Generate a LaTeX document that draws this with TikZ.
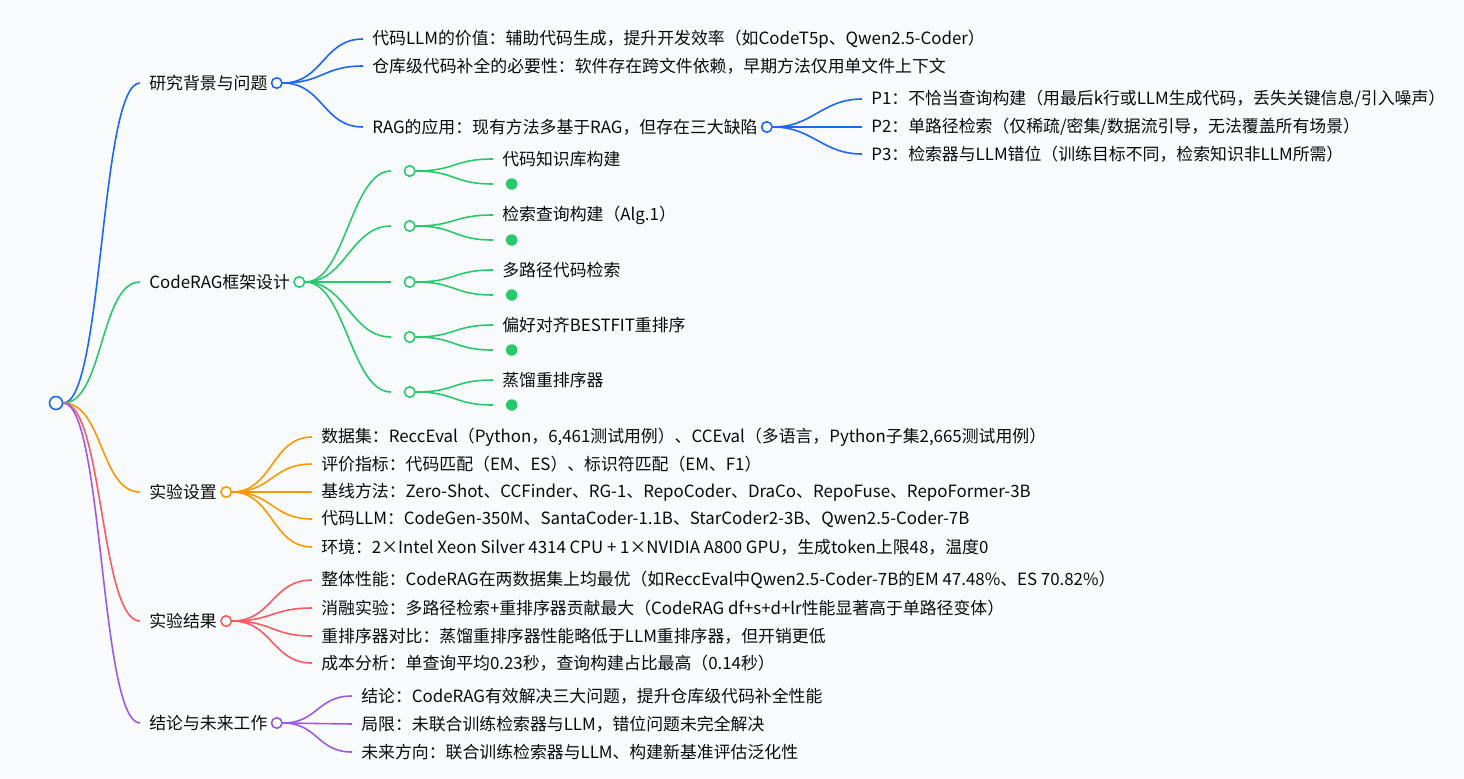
\documentclass[tikz,border=0pt]{standalone}
\usepackage{fontspec}
\setmainfont{Noto Sans CJK SC}
\definecolor{bgcol}{RGB}{248,250,252}
\definecolor{mblue}{RGB}{26,102,255}
\definecolor{mgreen}{RGB}{40,201,106}
\definecolor{morange}{RGB}{255,152,0}
\definecolor{mred}{RGB}{255,90,95}
\definecolor{mpurple}{RGB}{155,90,230}
\definecolor{txt}{RGB}{10,10,10}

\begin{document}
\begin{tikzpicture}[x=0.02cm, y=-0.02cm,
    every node/.style={font=\fontsize{9.6pt}{11pt}\selectfont, text=txt},
    txtnode/.style={anchor=west, inner xsep=0.18cm, inner ysep=0pt},
    knob/.style={circle, draw=#1, fill=white, line width=0.9pt, minimum size=0.21cm, inner sep=0pt},
    leaf/.style={circle, fill=#1, minimum size=0.23cm, inner sep=0pt},
    branch/.style={line width=0.9pt, to path={.. controls +(#1,0) and +(-#1,0) .. (\tikztotarget)}},
    branch/.default=40]

    \fill[bgcol] (0,0) rectangle (1464,778);
    \useasboundingbox (0,0) rectangle (1464,778);

    \node[knob=mblue, minimum size=0.26cm] (root) at (56,403) {};

    % level 1
    \node[txtnode] (back) at (140,83) {研究背景与问题};
    \node[knob=mblue] (backk) at (back.east) {};
    \node[txtnode] (frame) at (140,282) {CodeRAG框架设计};
    \node[knob=mgreen] (framek) at (frame.east) {};
    \node[txtnode] (setup) at (140,492) {实验设置};
    \node[knob=morange] (setupk) at (setup.east) {};
    \node[txtnode] (result) at (140,621) {实验结果};
    \node[knob=mred] (resultk) at (result.east) {};
    \node[txtnode] (concl) at (140,723) {结论与未来工作};
    \node[knob=mpurple] (conclk) at (concl.east) {};

    % background
    \node[txtnode] (back1) at (363,39) {代码LLM的价值：辅助代码生成，提升开发效率（如CodeT5p、Qwen2.5-Coder）};
    \node[txtnode] (back2) at (363,66) {仓库级代码补全的必要性：软件存在跨文件依赖，早期方法仅用单文件上下文};
    \node[txtnode] (back3) at (363,127) {RAG的应用：现有方法多基于RAG，但存在三大缺陷};
    \node[knob=mblue] (back3k) at (back3.east) {};
    \node[txtnode] (prob1) at (862,99) {P1：不恰当查询构建（用最后k行或LLM生成代码，丢失关键信息/引入噪声）};
    \node[txtnode] (prob2) at (862,127) {P2：单路径检索（仅稀疏/密集/数据流引导，无法覆盖所有场景）};
    \node[txtnode] (prob3) at (862,154) {P3：检索器与LLM错位（训练目标不同，检索知识非LLM所需）};

    % framework
    \node[txtnode] (mod1) at (391,171) {};
    \node[knob=mgreen] (mod1k) at (mod1.east) {};
    \node[txtnode] (mod2) at (391,226) {};
    \node[knob=mgreen] (mod2k) at (mod2.east) {};
    \node[txtnode] (mod3) at (391,282) {};
    \node[knob=mgreen] (mod3k) at (mod3.east) {};
    \node[txtnode] (mod4) at (391,337) {};
    \node[knob=mgreen] (mod4k) at (mod4.east) {};
    \node[txtnode] (mod5) at (391,392) {};
    \node[knob=mgreen] (mod5k) at (mod5.east) {};

    \node[txtnode] (mod1t) at (493,159) {代码知识库构建};
    \node[txtnode] (mod2t) at (493,215) {检索查询构建（Alg.1）};
    \node[txtnode] (mod3t) at (493,270) {多路径代码检索};
    \node[txtnode] (mod4t) at (493,325) {偏好对齐BESTFIT重排序};
    \node[txtnode] (mod5t) at (493,380) {蒸馏重排序器};
    \node[txtnode] (mod1d) at (493,184) {};
    \node[leaf=mgreen] at (mod1d.east) {};
    \node[txtnode] (mod2d) at (493,240) {};
    \node[leaf=mgreen] at (mod2d.east) {};
    \node[txtnode] (mod3d) at (493,295) {};
    \node[leaf=mgreen] at (mod3d.east) {};
    \node[txtnode] (mod4d) at (493,350) {};
    \node[leaf=mgreen] at (mod4d.east) {};
    \node[txtnode] (mod5d) at (493,405) {};
    \node[leaf=mgreen] at (mod5d.east) {};

    % setup
    \node[txtnode] (set1) at (312,437) {数据集：ReccEval（Python，6,461测试用例）、CCEval（多语言，Python子集2,665测试用例）};
    \node[txtnode] (set2) at (312,464) {评价指标：代码匹配（EM、ES）、标识符匹配（EM、F1）};
    \node[txtnode] (set3) at (312,492) {基线方法：Zero-Shot、CCFinder、RG-1、RepoCoder、DraCo、RepoFuse、RepoFormer-3B};
    \node[txtnode] (set4) at (312,519) {代码LLM：CodeGen-350M、SantaCoder-1.1B、StarCoder2-3B、Qwen2.5-Coder-7B};
    \node[txtnode] (set5) at (312,547) {环境：2×Intel Xeon Silver 4314 CPU + 1×NVIDIA A800 GPU，生成token上限48，温度0};

    % results
    \node[txtnode] (res1) at (312,580) {整体性能：CodeRAG在两数据集上均最优（如ReccEval中Qwen2.5-Coder-7B的EM 47.48\%、ES 70.82\%）};
    \node[txtnode] (res2) at (312,608) {消融实验：多路径检索+重排序器贡献最大（CodeRAG df+s+d+lr性能显著高于单路径变体）};
    \node[txtnode] (res3) at (312,636) {重排序器对比：蒸馏重排序器性能略低于LLM重排序器，但开销更低};
    \node[txtnode] (res4) at (312,663) {成本分析：单查询平均0.23秒，查询构建占比最高（0.14秒）};

    % conclusion
    \node[txtnode] (con1) at (352,696) {结论：CodeRAG有效解决三大问题，提升仓库级代码补全性能};
    \node[txtnode] (con2) at (352,724) {局限：未联合训练检索器与LLM，错位问题未完全解决};
    \node[txtnode] (con3) at (352,752) {未来方向：联合训练检索器与LLM、构建新基准评估泛化性};

    % links
    \draw[branch, mblue] (root.east) to (back.west);
    \draw[branch, mgreen] (root.east) to (frame.west);
    \draw[branch, morange] (root.east) to (setup.west);
    \draw[branch, mred] (root.east) to (result.west);
    \draw[branch, mpurple] (root.east) to (concl.west);

    \draw[branch, mblue] (backk.east) to (back1.west);
    \draw[branch, mblue] (backk.east) to (back2.west);
    \draw[branch, mblue] (backk.east) to (back3.west);
    \draw[branch, mblue] (back3k.east) to (prob1.west);
    \draw[branch, mblue] (back3k.east) to (prob2.west);
    \draw[branch, mblue] (back3k.east) to (prob3.west);

    \foreach \i in {1,...,5} {
        \draw[branch, mgreen] (framek.east) to (mod\i.west);
        \draw[branch, mgreen] (mod\i k.east) to (mod\i t.west);
        \draw[branch, mgreen] (mod\i k.east) to (mod\i d.west);
    }

    \foreach \i in {1,...,5}
        \draw[branch, morange] (setupk.east) to (set\i.west);
    \foreach \i in {1,...,4}
        \draw[branch, mred] (resultk.east) to (res\i.west);
    \foreach \i in {1,...,3}
        \draw[branch=35, mpurple] (conclk.east) to (con\i.west);

\end{tikzpicture}
\end{document}
